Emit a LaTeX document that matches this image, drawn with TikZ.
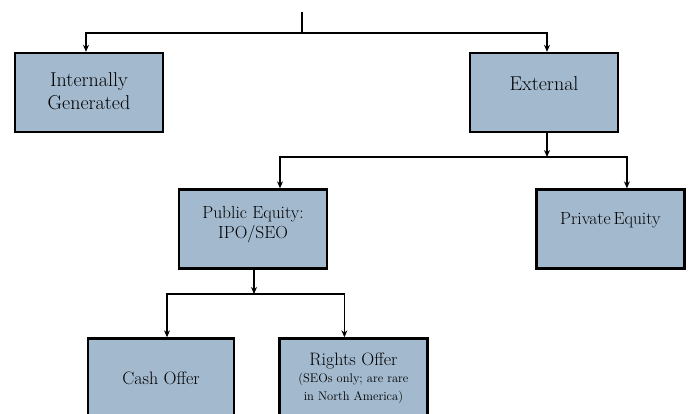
\documentclass[tikz,border=0pt]{standalone}
\usepackage{tikz}
\usetikzlibrary{positioning,arrows.meta}
\definecolor{boxblue}{RGB}{163,185,206}

\begin{document}
\begin{tikzpicture}[%
    x=1pt,
    y=-1pt,
    ->,
    >={Stealth[length=7pt,width=6pt]},
    line width=1.5pt,
    box/.style={%
      rectangle,
      draw,
      fill=boxblue,
      line width=2.4pt,
      minimum width=148pt,
      minimum height=79pt,
      inner sep=0pt,
      align=center
    },
    big/.style={font=\fontsize{20}{23}\selectfont},
    mid/.style={font=\fontsize{17.5}{20}\selectfont},
    low/.style={font=\fontsize{18}{21}\selectfont}
  ]
    \useasboundingbox (0,0) rectangle (690,413);
    \clip (0,0) rectangle (690,413);

    \node[box, big, text depth=3pt]           (int)    at (89,92.5)   {Internally\\Generated};
    \node[box, big, text depth=18pt]          (ext)    at (544,92.5)  {External};
    \node[box, mid, text depth=14pt]          (pub)    at (253,229)   {Public Equity:\\IPO/SEO};
    \node[box, mid, text depth=20pt]          (priv)   [right=207pt of pub] {Private\,Equity};
    \node[box, low, minimum width=146pt]      (cash)   at (161,378)   {Cash Offer};
    \node[box, low]                           (rights) [right=43pt of cash]
      {Rights Offer\\[-4pt]{\fontsize{12.5}{12.5}\selectfont (SEOs only; are rare}\\[-3pt]{\fontsize{12.5}{12.5}\selectfont in North America)}};

    % junctions
    \coordinate (top) at (302,12);
    \coordinate (j1)  at (302,33);
    \coordinate (j2)  at (547,157);
    \coordinate (j3)  at (254,294);

    \draw[-] (top) -- (j1);
    \draw (j1) -| ([xshift=-3pt]int.north);
    \draw (j1) -| ([xshift=3pt]ext.north);

    \draw ([xshift=3pt]ext.south) -- (j2);
    \draw (j2) -| ([xshift=27pt]pub.north);
    \draw (j2) -| ([xshift=16.5pt]priv.north);

    \draw ([xshift=1pt]pub.south) -- (j3);
    \draw (j3) -| ([xshift=6pt]cash.north);
    \draw (j3) -| ([xshift=-9pt]rights.north);
  \end{tikzpicture}
\end{document}
